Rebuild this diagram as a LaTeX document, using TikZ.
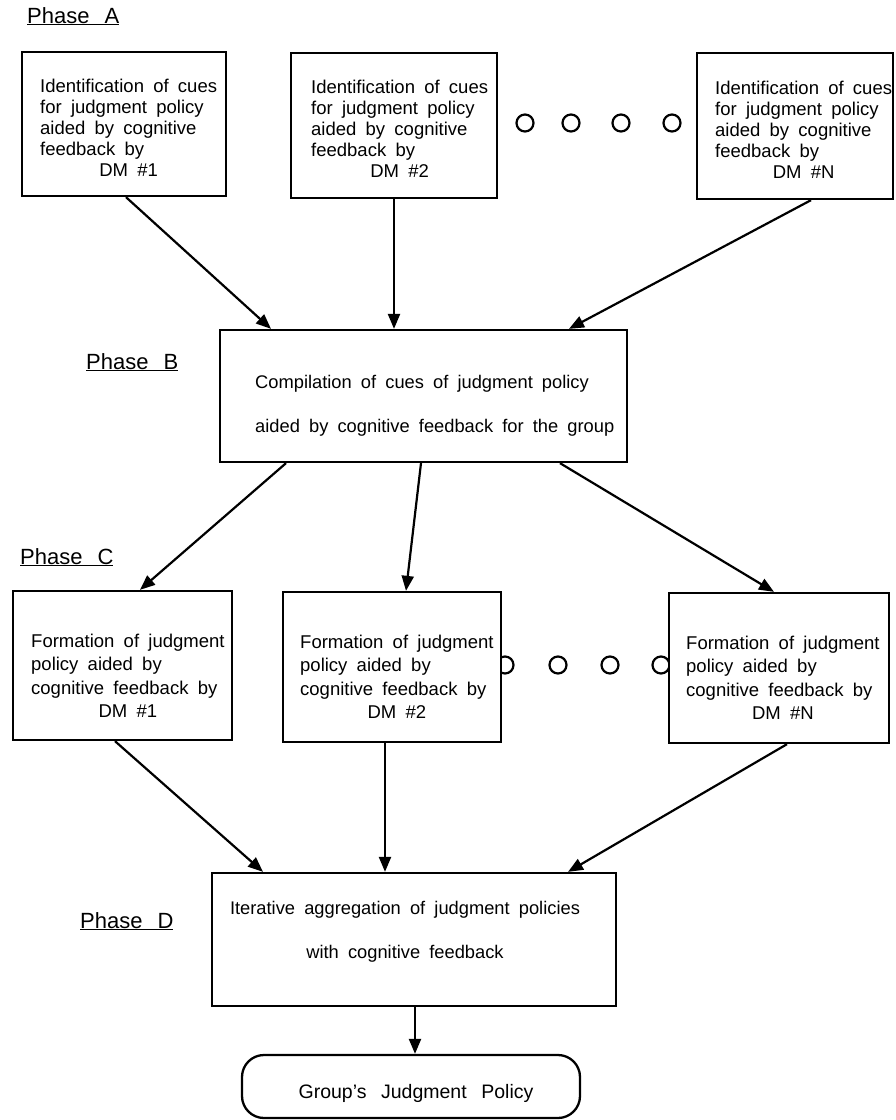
\documentclass[tikz,border=0pt]{standalone}
\usepackage{fontspec}
\setmainfont{Liberation Sans}
\usetikzlibrary{arrows.meta}
\newcommand\fsA{\fontsize{18.5}{21.2}\selectfont\spaceskip=0.5em plus 0.1em\relax}
\newcommand\fsC{\fontsize{18.5}{23.5}\selectfont\spaceskip=0.5em plus 0.1em\relax}
\newcommand\fsB{\fontsize{18.3}{22}\selectfont\spaceskip=0.5em plus 0.1em\relax}
\newcommand\fsF{\fontsize{19.5}{23}\selectfont\spaceskip=0.75em plus 0.1em\relax}
\newcommand\fsP{\fontsize{22}{26}\selectfont}
\begin{document}
\begin{tikzpicture}[x=1pt,y=-1pt,
  box/.style={draw, line width=2.3pt, fill=white, inner sep=0pt},
  arr/.style={line width=2.2pt, -{Triangle[length=15pt,width=12pt]}},
  dotc/.style={draw, line width=2.2pt, circle, minimum size=17pt, inner sep=0pt},
  txt/.style={inner sep=0pt, anchor=base west},
  ctxt/.style={inner sep=0pt, anchor=base}]
\useasboundingbox (0,0) rectangle (896,1120);

% Phase labels
\node[txt, font=\fsP] (pA) at (27,23) {\underline{Phase\hspace{15pt}A}};
\node[txt, font=\fsP] (pB) at (86,369) {\underline{Phase\hspace{15pt}B}};
\node[txt, font=\fsP] (pC) at (20,564) {\underline{Phase\hspace{15pt}C}};
\node[txt, font=\fsP] (pD) at (80,928) {\underline{Phase\hspace{15pt}D}};

% ellipsis circles
\node[dotc] (a1) at (525,123) {};
\node[dotc] (a2) at (571,123) {};
\node[dotc] (a3) at (621,123) {};
\node[dotc] (a4) at (672,123) {};
\node[dotc] (c1) at (505,665) {};
\node[dotc] (c2) at (558,665) {};
\node[dotc] (c3) at (610,665) {};
\node[dotc] (c4) at (661,665) {};

% boxes
\node[box, minimum width=204pt, minimum height=144pt] (A1) at (124,124) {};
\node[box, minimum width=206pt, minimum height=145pt] (A2) at (394,125.5) {};
\node[box, minimum width=196pt, minimum height=146pt] (A3) at (795,126) {};
\node[box, minimum width=407pt, minimum height=132pt] (B) at (423.5,396) {};
\node[box, minimum width=219pt, minimum height=149pt] (C1) at (122.5,665.5) {};
\node[box, minimum width=218pt, minimum height=150pt] (C2) at (392,667) {};
\node[box, minimum width=220pt, minimum height=150pt] (C3) at (779,668) {};
\node[box, minimum width=404pt, minimum height=133pt] (D) at (414,939.5) {};
\node[box, rounded corners=22pt, minimum width=338pt, minimum height=63pt] (F) at (411,1086.5) {};

% texts
\node[txt, font=\fsA] (A1t) at (40,92) {\begin{tabular}[t]{@{}l@{}}Identification of cues\\for judgment policy\\aided by cognitive\\feedback by\\\multicolumn{1}{@{}c@{}}{DM \#1}\end{tabular}};
\node[txt, font=\fsA] (A2t) at (311,93) {\begin{tabular}[t]{@{}l@{}}Identification of cues\\for judgment policy\\aided by cognitive\\feedback by\\\multicolumn{1}{@{}c@{}}{DM \#2}\end{tabular}};
\node[txt, font=\fsA] (A3t) at (715,94) {\begin{tabular}[t]{@{}l@{}}Identification of cues\\for judgment policy\\aided by cognitive\\feedback by\\\multicolumn{1}{@{}c@{}}{DM \#N}\end{tabular}};
\node[txt, font=\fsB] (Bt) at (255,388) {\begin{tabular}[t]{@{}l@{}}Compilation of cues of judgment policy\\[22pt]aided by cognitive feedback for the group\end{tabular}};
\node[txt, font=\fsC] (C1t) at (31,647) {\begin{tabular}[t]{@{}l@{}}Formation of judgment\\policy aided by\\cognitive feedback by\\\multicolumn{1}{@{}c@{}}{DM \#1}\end{tabular}};
\node[txt, font=\fsC] (C2t) at (300,648) {\begin{tabular}[t]{@{}l@{}}Formation of judgment\\policy aided by\\cognitive feedback by\\\multicolumn{1}{@{}c@{}}{DM \#2}\end{tabular}};
\node[txt, font=\fsC] (C3t) at (686,649) {\begin{tabular}[t]{@{}l@{}}Formation of judgment\\policy aided by\\cognitive feedback by\\\multicolumn{1}{@{}c@{}}{DM \#N}\end{tabular}};
\node[ctxt, font=\fsB] (Dt) at (405,914) {\begin{tabular}[t]{@{}c@{}}Iterative aggregation of judgment policies\\[22pt]with cognitive feedback\end{tabular}};
\node[ctxt, font=\fsF] (Ft) at (416,1098) {Group's Judgment Policy};

% connectors
\draw[arr] ([xshift=2pt]A1.south) -- ([xshift=-152.5pt]B.north);
\draw[arr] (A2.south) -- ([xshift=-29.5pt]B.north);
\draw[arr] ([xshift=16pt]A3.south) -- ([xshift=145.5pt]B.north);
\draw[arr] ([xshift=-137.5pt]B.south) -- ([xshift=17.5pt]C1.north);
\draw[arr] ([xshift=-2.5pt]B.south) -- ([xshift=14pt]C2.north);
\draw[arr] ([xshift=136.5pt]B.south) -- ([xshift=-5pt]C3.north);
\draw[arr] ([xshift=-7.5pt]C1.south) -- ([xshift=-151pt]D.north);
\draw[arr] ([xshift=-7pt]C2.south) -- ([xshift=-29pt]D.north);
\draw[arr] ([xshift=8pt]C3.south) -- ([xshift=154pt]D.north);
\draw[arr] ([xshift=1pt]D.south) -- ([xshift=4pt]F.north);
\end{tikzpicture}
\end{document}
